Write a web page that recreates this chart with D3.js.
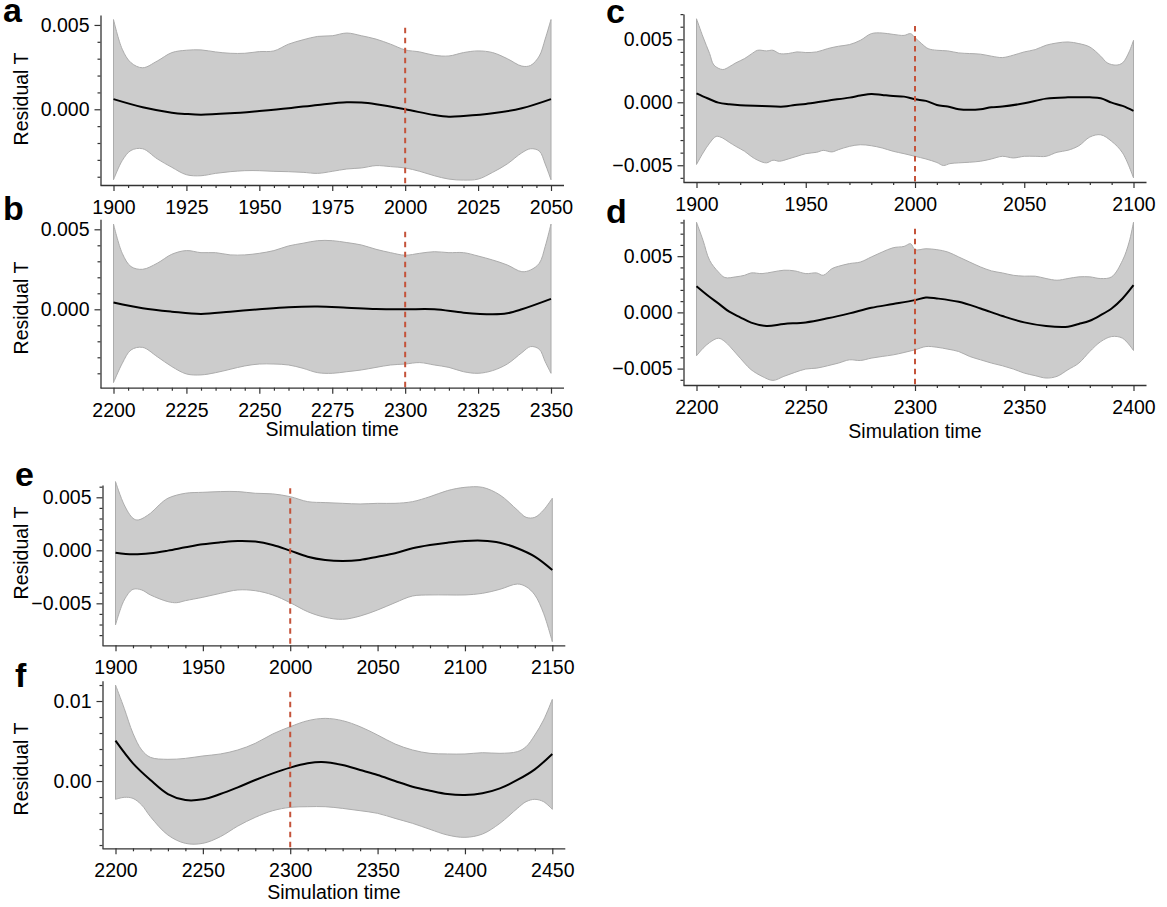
<!DOCTYPE html>
<html>
<head>
<meta charset="utf-8">
<script src="https://cdn.jsdelivr.net/npm/d3@7"></script>
<style>
  body { margin: 0; background: #fff; }
  svg text { font-family: "Liberation Sans", Arial, Helvetica, sans-serif; fill: #000; }
</style>
</head>
<body>
<svg id="chart" width="1167" height="907"></svg>
<script>
// ---- panel a : 1900-2050 ----
const aUpYears = [1900, 1903, 1906, 1910, 1915, 1920, 1925, 1930, 1935, 1940, 1945, 1950, 1955, 1960, 1965, 1970, 1975, 1980, 1985, 1990, 1995, 2000, 2005, 2010, 2015, 2020, 2025, 2030, 2035, 2040, 2043, 2046, 2048, 2050];
const aUpper = [0.00532, 0.00356, 0.00276, 0.00246, 0.00286, 0.00336, 0.0035, 0.00352, 0.0034, 0.00332, 0.00332, 0.00342, 0.00346, 0.00386, 0.00412, 0.00432, 0.00436, 0.00452, 0.00436, 0.00416, 0.00386, 0.00352, 0.0034, 0.0032, 0.00316, 0.00336, 0.00346, 0.00336, 0.003, 0.00256, 0.0026, 0.00316, 0.00416, 0.00532];
const aLower = [-0.00418, -0.00304, -0.00244, -0.00234, -0.00294, -0.00344, -0.00388, -0.00394, -0.0038, -0.0037, -0.00364, -0.00364, -0.00368, -0.0037, -0.00374, -0.0038, -0.00368, -0.00354, -0.00348, -0.00334, -0.0034, -0.00348, -0.00368, -0.00394, -0.00414, -0.0042, -0.00414, -0.00374, -0.00324, -0.00258, -0.00234, -0.00248, -0.00324, -0.00418];
const aMeanYears = [1900, 1910, 1920, 1925, 1930, 1940, 1950, 1960, 1970, 1980, 1985, 1990, 2000, 2010, 2015, 2020, 2030, 2040, 2050];
const aMean = [0.0006, 0.00012, -0.0002, -0.00028, -0.00032, -0.00024, -0.0001, 0.00006, 0.00026, 0.00042, 0.0004, 0.0003, 0, -0.00034, -0.00044, -0.0004, -0.00024, 0.00006, 0.0006];

// ---- panel b : 2200-2350 ----
const bUpYears = [2200, 2203, 2206, 2210, 2215, 2220, 2225, 2230, 2235, 2240, 2245, 2250, 2255, 2260, 2265, 2270, 2275, 2280, 2285, 2290, 2295, 2300, 2305, 2310, 2315, 2320, 2325, 2330, 2335, 2340, 2343, 2346, 2348, 2350];
const bUpper = [0.00533, 0.0035, 0.00267, 0.0025, 0.00288, 0.00344, 0.00367, 0.00354, 0.00354, 0.0034, 0.0034, 0.0035, 0.00367, 0.00396, 0.00413, 0.00429, 0.00429, 0.00417, 0.00402, 0.00375, 0.00354, 0.00338, 0.0035, 0.0036, 0.00354, 0.00354, 0.00333, 0.00308, 0.00277, 0.00235, 0.00246, 0.00288, 0.00392, 0.00533];
const bLower = [-0.00458, -0.00338, -0.00254, -0.00238, -0.00296, -0.00358, -0.00404, -0.0041, -0.00396, -0.00375, -0.00354, -0.00342, -0.00342, -0.00348, -0.00369, -0.00396, -0.004, -0.0039, -0.00379, -0.00363, -0.00348, -0.00342, -0.00333, -0.00348, -0.00363, -0.0039, -0.004, -0.00383, -0.00342, -0.00271, -0.00233, -0.0025, -0.00327, -0.004];
const bMeanYears = [2200, 2210, 2220, 2230, 2240, 2250, 2260, 2270, 2280, 2290, 2300, 2310, 2320, 2330, 2335, 2340, 2350];
const bMean = [0.00042, 0.00006, -0.00015, -0.00029, -0.00015, 0, 0.00013, 0.00017, 0.0001, 0.00002, 0, 0, -0.00021, -0.00031, -0.00025, 0, 0.00065];

// ---- panel c : 1900-2100 ----
const cUpYears = [1900, 1903, 1906, 1908, 1912, 1915, 1918, 1922, 1925, 1928, 1932, 1935, 1938, 1942, 1946, 1950, 1955, 1960, 1965, 1970, 1975, 1980, 1985, 1990, 1995, 1998, 2000, 2003, 2006, 2010, 2015, 2020, 2025, 2030, 2035, 2040, 2045, 2050, 2055, 2060, 2065, 2070, 2075, 2080, 2085, 2088, 2092, 2095, 2098, 2100];
const cUpper = [0.00663, 0.00518, 0.00387, 0.00295, 0.0026, 0.00282, 0.00313, 0.00347, 0.00382, 0.00413, 0.00408, 0.00413, 0.00387, 0.00387, 0.004, 0.00395, 0.004, 0.00426, 0.00445, 0.00458, 0.00492, 0.00545, 0.0055, 0.00539, 0.00531, 0.00545, 0.00513, 0.00466, 0.00426, 0.00413, 0.00408, 0.00392, 0.00387, 0.00382, 0.00366, 0.00355, 0.00374, 0.004, 0.00418, 0.00453, 0.00471, 0.00479, 0.00466, 0.00439, 0.00366, 0.00313, 0.00295, 0.00313, 0.004, 0.00492];
const cLoYears = [1900, 1903, 1906, 1909, 1912, 1915, 1918, 1922, 1925, 1928, 1932, 1935, 1938, 1942, 1946, 1950, 1955, 1958, 1962, 1965, 1970, 1975, 1980, 1985, 1990, 1995, 2000, 2005, 2010, 2013, 2016, 2020, 2025, 2030, 2035, 2040, 2045, 2050, 2055, 2060, 2065, 2070, 2075, 2080, 2085, 2090, 2095, 2100];
const cLower = [-0.00494, -0.00402, -0.00324, -0.00271, -0.00284, -0.00318, -0.0035, -0.00389, -0.00429, -0.0046, -0.00481, -0.0046, -0.00468, -0.0045, -0.00429, -0.00408, -0.00397, -0.00382, -0.00394, -0.00376, -0.0035, -0.00337, -0.00345, -0.00363, -0.00389, -0.00408, -0.00429, -0.0045, -0.00478, -0.00502, -0.00487, -0.00481, -0.00476, -0.00468, -0.0045, -0.00429, -0.00442, -0.00429, -0.00429, -0.00429, -0.00397, -0.00381, -0.00345, -0.00276, -0.00258, -0.0031, -0.00402, -0.006];
const cMeanYears = [1900, 1905, 1910, 1915, 1920, 1930, 1940, 1945, 1950, 1960, 1970, 1975, 1980, 1985, 1990, 1995, 2000, 2005, 2010, 2015, 2020, 2025, 2030, 2035, 2040, 2050, 2060, 2070, 2080, 2085, 2090, 2095, 2100];
const cMean = [0.00071, 0.00032, -0.00003, -0.00016, -0.00024, -0.00029, -0.00034, -0.00021, -0.00013, 0.00013, 0.00037, 0.00053, 0.00066, 0.00058, 0.0005, 0.00045, 0.00024, 0.00011, -0.00021, -0.00034, -0.00055, -0.0006, -0.00055, -0.00039, -0.00034, -0.00008, 0.00029, 0.00039, 0.00039, 0.00032, -0.00003, -0.00029, -0.00068];

// ---- panel d : 2200-2400 ----
const dUpYears = [2200, 2203, 2206, 2210, 2213, 2218, 2222, 2225, 2230, 2235, 2240, 2245, 2250, 2255, 2258, 2262, 2265, 2270, 2275, 2280, 2285, 2290, 2295, 2298, 2300, 2305, 2310, 2315, 2320, 2325, 2330, 2335, 2340, 2345, 2350, 2355, 2360, 2365, 2370, 2375, 2380, 2385, 2390, 2395, 2398, 2400];
const dUpper = [0.00802, 0.0064, 0.00463, 0.0036, 0.0031, 0.00316, 0.0033, 0.00351, 0.00345, 0.0036, 0.00375, 0.00369, 0.00345, 0.00351, 0.0033, 0.00389, 0.0041, 0.00434, 0.00448, 0.00493, 0.00537, 0.00575, 0.00587, 0.00611, 0.00558, 0.00566, 0.00558, 0.00537, 0.00493, 0.00448, 0.00404, 0.00369, 0.00351, 0.0033, 0.00322, 0.00322, 0.00301, 0.00286, 0.00301, 0.00316, 0.00316, 0.00301, 0.00316, 0.00463, 0.00625, 0.00802];
const dLoYears = [2200, 2203, 2206, 2210, 2213, 2218, 2222, 2225, 2230, 2235, 2240, 2245, 2250, 2255, 2260, 2265, 2270, 2275, 2280, 2285, 2290, 2295, 2300, 2305, 2310, 2315, 2320, 2325, 2330, 2335, 2340, 2345, 2350, 2355, 2360, 2365, 2370, 2375, 2380, 2385, 2390, 2395, 2400];
const dLower = [-0.00386, -0.00319, -0.00268, -0.0023, -0.0026, -0.00363, -0.00451, -0.0051, -0.00569, -0.00605, -0.00569, -0.00534, -0.00504, -0.00496, -0.00475, -0.00451, -0.00422, -0.00428, -0.00407, -0.00392, -0.00378, -0.00357, -0.00333, -0.00304, -0.0031, -0.00327, -0.00348, -0.00392, -0.00422, -0.00451, -0.00475, -0.00504, -0.0054, -0.00563, -0.00584, -0.00569, -0.0051, -0.00451, -0.00348, -0.0026, -0.00215, -0.0023, -0.00339];
const dMeanYears = [2200, 2205, 2210, 2215, 2220, 2225, 2232, 2240, 2250, 2260, 2270, 2280, 2290, 2300, 2305, 2310, 2320, 2330, 2340, 2350, 2360, 2370, 2375, 2380, 2385, 2390, 2395, 2400];
const dMean = [0.00233, 0.00153, 0.0008, 0.00006, -0.00044, -0.00091, -0.00121, -0.00103, -0.00089, -0.00053, -0.00009, 0.00041, 0.00074, 0.00109, 0.00133, 0.00124, 0.00094, 0.00035, -0.00032, -0.00089, -0.00121, -0.00127, -0.00103, -0.00074, -0.00024, 0.00035, 0.00124, 0.00242];

// ---- panel e : 1900-2150 ----
const eUpYears = [1900, 1905, 1910, 1913, 1920, 1925, 1930, 1940, 1950, 1960, 1970, 1980, 1990, 2000, 2010, 2020, 2030, 2040, 2050, 2060, 2070, 2080, 2090, 2100, 2110, 2120, 2130, 2135, 2140, 2145, 2150];
const eUpper = [0.00648, 0.00428, 0.00302, 0.00286, 0.00349, 0.00428, 0.00491, 0.00538, 0.00547, 0.00554, 0.00554, 0.00538, 0.00532, 0.00506, 0.00459, 0.0045, 0.00443, 0.00437, 0.00443, 0.00443, 0.00459, 0.00506, 0.00563, 0.00594, 0.00594, 0.00522, 0.0038, 0.00311, 0.00311, 0.0038, 0.00491];
const eLoYears = [1900, 1905, 1910, 1915, 1920, 1930, 1935, 1940, 1950, 1960, 1970, 1980, 1990, 2000, 2010, 2020, 2030, 2040, 2050, 2060, 2070, 2080, 2090, 2100, 2110, 2120, 2130, 2135, 2140, 2145, 2150];
const eLower = [-0.00704, -0.00469, -0.00368, -0.00374, -0.00421, -0.00484, -0.00494, -0.00475, -0.00443, -0.00406, -0.00374, -0.00381, -0.00421, -0.00494, -0.00579, -0.00632, -0.00651, -0.0062, -0.00563, -0.00494, -0.00431, -0.00421, -0.00421, -0.00421, -0.00406, -0.00368, -0.00318, -0.00343, -0.00421, -0.00594, -0.00862];
const eMeanYears = [1900, 1910, 1920, 1930, 1940, 1950, 1960, 1970, 1980, 1990, 2000, 2010, 2020, 2030, 2040, 2050, 2060, 2070, 2080, 2090, 2100, 2110, 2120, 2130, 2140, 2150];
const eMean = [-0.00022, -0.00038, -0.00028, -0.00003, 0.00028, 0.00057, 0.00075, 0.00088, 0.00082, 0.0005, -0.00003, -0.0006, -0.00091, -0.00101, -0.00091, -0.0006, -0.00028, 0.00019, 0.0005, 0.00072, 0.00088, 0.00091, 0.00072, 0.00019, -0.0006, -0.00186];

// ---- panel f : 2200-2450 ----
const fBandYears = [2200, 2205, 2210, 2215, 2220, 2230, 2240, 2250, 2260, 2270, 2280, 2290, 2300, 2310, 2320, 2330, 2340, 2350, 2360, 2370, 2380, 2390, 2400, 2410, 2420, 2430, 2435, 2440, 2445, 2450];
const fUpper = [0.012, 0.00908, 0.00596, 0.00388, 0.00296, 0.00271, 0.00283, 0.00313, 0.00338, 0.00388, 0.00471, 0.00588, 0.00679, 0.00754, 0.00783, 0.00754, 0.00679, 0.00575, 0.00463, 0.00388, 0.00346, 0.00338, 0.00338, 0.00354, 0.00346, 0.00367, 0.00429, 0.00575, 0.00763, 0.0102];
const fLower = [-0.00229, -0.00204, -0.00217, -0.003, -0.00446, -0.00675, -0.00779, -0.00779, -0.00696, -0.00563, -0.00454, -0.00371, -0.00329, -0.00321, -0.00321, -0.00342, -0.00371, -0.00404, -0.00467, -0.00529, -0.00604, -0.00675, -0.00704, -0.00663, -0.00529, -0.00342, -0.00258, -0.00229, -0.00258, -0.00354];
const fMeanYears = [2200, 2210, 2220, 2230, 2240, 2250, 2260, 2270, 2280, 2290, 2300, 2310, 2318, 2330, 2340, 2350, 2360, 2370, 2380, 2390, 2400, 2410, 2420, 2430, 2440, 2450];
const fMean = [0.00504, 0.00221, 0.00013, -0.00163, -0.00238, -0.00229, -0.00163, -0.00079, 0.00013, 0.00096, 0.00167, 0.00221, 0.00238, 0.002, 0.00138, 0.00075, 0, -0.00071, -0.00121, -0.00163, -0.00175, -0.00154, -0.00092, 0.00013, 0.00146, 0.00338];

// tick labels
const abTicksA = [1900, 1925, 1950, 1975, 2000, 2025, 2050];
const abTicksB = [2200, 2225, 2250, 2275, 2300, 2325, 2350];
const cTicks = [1900, 1950, 2000, 2050, 2100];
const dTicks = [2200, 2250, 2300, 2350, 2400];
const eTicks = [1900, 1950, 2000, 2050, 2100, 2150];
const fTicks = [2200, 2250, 2300, 2350, 2400, 2450];
const yTicksAB = [0, 0.005];
const yTicksCDE = [-0.005, 0, 0.005];
const yTicksF = [0, 0.01];
const splitYears = { a: 2000, b: 2300, c: 2000, d: 2300, e: 2000, f: 2300 };

// panel setup (layout in px, domains in data units)
const panels = [
  { id: 'a', up: [aUpYears, aUpper], lo: [aUpYears, aLower], mean: [aMeanYears, aMean],
    xTicks: abTicksA, xMinor: 5, yTicks: yTicksAB, yMinor: 0.001, fmt: '.3f',
    yDomain: [-0.00449, 0.00559], splitTop: 0.00483,
    left: 100.5, right: 564, top: 15, bottom: 185,
    letter: [3, 22], yLabel: 99, xLabel: null },
  { id: 'b', up: [bUpYears, bUpper], lo: [bUpYears, bLower], mean: [bMeanYears, bMean],
    xTicks: abTicksB, xMinor: 5, yTicks: yTicksAB, yMinor: 0.001, fmt: '.3f',
    yDomain: [-0.0049, 0.005625], splitTop: 0.00485,
    left: 100.5, right: 564, top: 219.3, bottom: 387.7,
    letter: [3, 220], yLabel: 308, xLabel: 435.5 },
  { id: 'c', up: [cUpYears, cUpper], lo: [cLoYears, cLower], mean: [cMeanYears, cMean],
    xTicks: cTicks, xMinor: 10, yTicks: yTicksCDE, yMinor: 0.001, fmt: '.3f',
    yDomain: [-0.00633, 0.00701], splitTop: 0.00606,
    left: 683.5, right: 1146.5, top: 14, bottom: 182,
    letter: [606, 23], yLabel: null, xLabel: null },
  { id: 'd', up: [dUpYears, dUpper], lo: [dLoYears, dLower], mean: [dMeanYears, dMean],
    xTicks: dTicks, xMinor: 10, yTicks: yTicksCDE, yMinor: 0.001, fmt: '.3f',
    yDomain: [-0.00646, 0.00828], splitTop: 0.00743,
    left: 683.5, right: 1146.5, top: 219.3, bottom: 385,
    letter: [606, 223], yLabel: null, xLabel: 438 },
  { id: 'e', up: [eUpYears, eUpper], lo: [eLoYears, eLower], mean: [eMeanYears, eMean],
    xTicks: eTicks, xMinor: 10, yTicks: yTicksCDE, yMinor: 0.001, fmt: '.3f',
    yDomain: [-0.00896, 0.00616], splitTop: 0.00585,
    left: 102.5, right: 565.3, top: 485, bottom: 645.3,
    letter: [15, 486], yLabel: 553, xLabel: null },
  { id: 'f', up: [fBandYears, fUpper], lo: [fBandYears, fLower], mean: [fMeanYears, fMean],
    xTicks: fTicks, xMinor: 10, yTicks: yTicksF, yMinor: 0.002, fmt: '.2f',
    yDomain: [-0.00841, 0.01254], splitTop: 0.01116,
    left: 102.5, right: 565.3, top: 680.7, bottom: 848.3,
    letter: [15, 687], yLabel: 769, xLabel: 899 }
];

const svg = d3.select('#chart');
const inset = 13;
const fontSize = 19.5;

function minorValues(domain, step, majors) {
  const k0 = Math.ceil(domain[0] / step - 1e-9);
  const k1 = Math.floor(domain[1] / step + 1e-9);
  return d3.range(k0, k1 + 1)
    .map(k => +(k * step).toFixed(6))
    .filter(v => !majors.some(m => Math.abs(m - v) < step / 100));
}

function drawPanel(p) {
  const g = svg.append('g').attr('class', 'panel-' + p.id);
  const allYears = p.up[0].concat(p.lo[0]);
  const x = d3.scaleLinear()
    .domain(d3.extent(allYears))
    .range([p.left + inset, p.right - inset]);
  const y = d3.scaleLinear().domain(p.yDomain).range([p.bottom, p.top]);

  const line = d3.line()
    .x(d => x(d[0]))
    .y(d => y(d[1]))
    .curve(d3.curveCatmullRom.alpha(0.5));

  // uncertainty band
  const upPts = d3.zip(p.up[0], p.up[1]);
  const loPts = d3.zip(p.lo[0], p.lo[1]).reverse();
  const bandPath = line(upPts) + line(loPts).replace(/^M/, 'L') + 'Z';
  g.append('path')
    .attr('d', bandPath)
    .attr('fill', '#cccccc')
    .attr('stroke', '#acacac')
    .attr('stroke-width', 1);

  // mean line
  g.append('path')
    .datum(d3.zip(p.mean[0], p.mean[1]))
    .attr('d', line)
    .attr('fill', 'none')
    .attr('stroke', '#000')
    .attr('stroke-width', 2);

  // split marker
  const sx = x(splitYears[p.id]);
  g.append('line')
    .attr('x1', sx).attr('x2', sx)
    .attr('y1', y(p.splitTop)).attr('y2', p.bottom)
    .attr('stroke', '#c4533a')
    .attr('stroke-width', 2)
    .attr('stroke-dasharray', '5.5,4.5');

  // x axis
  const xMinorVals = minorValues(x.domain(), p.xMinor, p.xTicks)
    .filter(v => x(v) >= p.left && x(v) <= p.right);
  const gxMinor = g.append('g')
    .attr('transform', `translate(0,${p.bottom})`)
    .call(d3.axisBottom(x).tickValues(xMinorVals).tickSize(3).tickSizeOuter(0).tickFormat(''));
  gxMinor.select('.domain').remove();

  const gx = g.append('g')
    .attr('transform', `translate(0,${p.bottom})`)
    .call(d3.axisBottom(x).tickValues(p.xTicks).tickSize(6).tickSizeOuter(0)
      .tickPadding(9).tickFormat(d3.format('d')));
  gx.select('.domain').attr('d', `M${p.left},0.5H${p.right}`);

  // y axis
  const yMinorVals = minorValues(p.yDomain, p.yMinor, p.yTicks);
  const gyMinor = g.append('g')
    .attr('transform', `translate(${p.left},0)`)
    .call(d3.axisLeft(y).tickValues(yMinorVals).tickSize(3).tickSizeOuter(0).tickFormat(''));
  gyMinor.select('.domain').remove();

  const gy = g.append('g')
    .attr('transform', `translate(${p.left},0)`)
    .call(d3.axisLeft(y).tickValues(p.yTicks).tickSize(6).tickSizeOuter(0)
      .tickPadding(5).tickFormat(d3.format(p.fmt)));

  [gx, gy, gxMinor, gyMinor].forEach(a => {
    a.selectAll('.domain').attr('stroke', '#333').attr('stroke-width', 1.3);
    a.selectAll('.tick line').attr('stroke', '#333').attr('stroke-width', 1.2);
    a.selectAll('.tick text')
      .attr('font-size', fontSize)
      .attr('font-family', '"Liberation Sans", Arial, sans-serif')
      .attr('fill', '#000');
  });

  // panel letter
  g.append('text')
    .attr('x', p.letter[0])
    .attr('y', p.letter[1])
    .attr('font-size', 34)
    .attr('font-weight', 'bold')
    .text(p.id);

  if (p.yLabel !== null) {
    g.append('text')
      .attr('transform', `translate(28,${p.yLabel}) rotate(-90)`)
      .attr('text-anchor', 'middle')
      .attr('font-size', fontSize)
      .text('Residual T');
  }
  if (p.xLabel !== null) {
    g.append('text')
      .attr('x', (p.left + p.right) / 2)
      .attr('y', p.xLabel)
      .attr('text-anchor', 'middle')
      .attr('font-size', fontSize)
      .text('Simulation time');
  }
}

panels.forEach(drawPanel);
</script>
</body>
</html>
